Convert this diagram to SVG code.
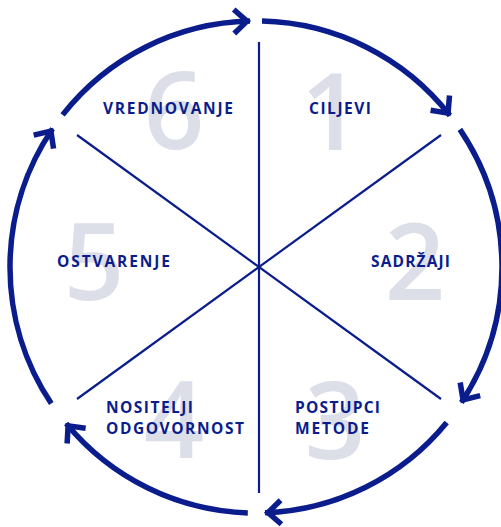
<svg xmlns="http://www.w3.org/2000/svg" width="501" height="527" viewBox="0 0 501 527">
<defs>
<marker id="chev" markerUnits="userSpaceOnUse" markerWidth="40" markerHeight="40" viewBox="-20 -20 40 40" refX="3" refY="0" orient="auto">
<path d="M-13,-12 L0,0 L-13,12" fill="none" stroke="#0b1d8c" stroke-width="5.5"/>
</marker>
</defs>
<style>
.arc{fill:none;stroke:#0b1d8c;stroke-width:5.5;marker-end:url(#chev)}
.sp{stroke:#0b1d8c;stroke-width:2.2}
.num{font-family:"Open Sans","Noto Sans",sans-serif;font-weight:600;font-size:106px;fill:#dcdfe8;text-anchor:middle}
.lbl{font-family:"Open Sans","Noto Sans",sans-serif;font-weight:700;font-size:15.5px;fill:#0b1d8c}
</style>
<g id="connectors">
<line class="sp" x1="259" y1="42" x2="259" y2="493"/>
<line class="sp" x1="77" y1="135" x2="441" y2="399"/>
<line class="sp" x1="441" y1="135" x2="77" y2="399"/>
<path class="arc" d="M262,21.1 A246,246 0 0 1 449.9,115.5"/>
<path class="arc" d="M459.9,129.4 A246,246 0 0 1 461.4,402.4"/>
<path class="arc" d="M446.7,422.5 A246,246 0 0 1 265,512.8"/>
<path class="arc" d="M247.8,512.9 A246,246 0 0 1 66.2,423.5"/>
<path class="arc" d="M51.3,403.5 A246,246 0 0 1 52.6,128.7"/>
<path class="arc" d="M62.6,114.9 A246,246 0 0 1 250,21.1"/>
</g>
<g id="n1"><text class="num" x="331" y="150">1</text><text class="lbl" x="309" y="114" textLength="62" lengthAdjust="spacing">CILJEVI</text></g>
<g id="n2"><text class="num" x="415" y="300">2</text><text class="lbl" x="371" y="267" textLength="79" lengthAdjust="spacing">SADRŽAJI</text></g>
<g id="n3"><text class="num" x="335" y="459">3</text><text class="lbl" x="295" y="413" textLength="85" lengthAdjust="spacing">POSTUPCI</text><text class="lbl" x="295" y="434" textLength="74" lengthAdjust="spacing">METODE</text></g>
<g id="n4"><text class="num" x="174" y="458">4</text><text class="lbl" x="106" y="413" textLength="87" lengthAdjust="spacing">NOSITELJI</text><text class="lbl" x="106" y="434" textLength="138" lengthAdjust="spacing">ODGOVORNOST</text></g>
<g id="n5"><text class="num" x="94" y="300">5</text><text class="lbl" x="57" y="267" textLength="113" lengthAdjust="spacing">OSTVARENJE</text></g>
<g id="n6"><text class="num" x="174" y="149">6</text><text class="lbl" x="103" y="114" textLength="130" lengthAdjust="spacing">VREDNOVANJE</text></g>
</svg>
